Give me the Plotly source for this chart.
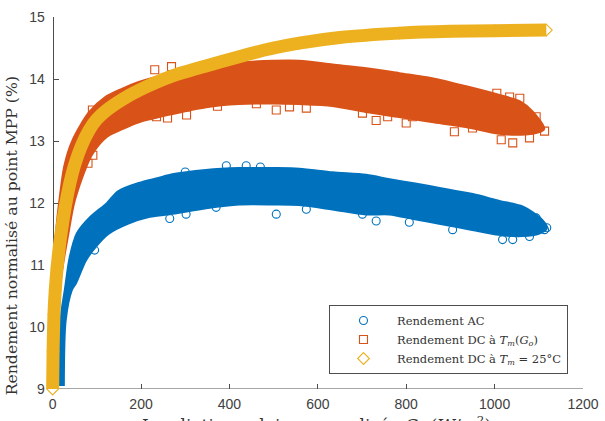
import plotly.graph_objects as go

# ---------------- data ----------------
# Rendement AC : band envelope + stray points
ac_up_g = [20, 21, 31, 42, 58, 88, 125, 150, 196, 240, 271, 347, 422, 500, 558, 633, 709, 762, 820, 875, 950, 1010, 1063, 1101, 1115]
ac_up_y = [9.05, 10.1, 10.6, 11.12, 11.5, 11.76, 11.98, 12.17, 12.3, 12.38, 12.44, 12.51, 12.54, 12.54, 12.53, 12.47, 12.43, 12.36, 12.29, 12.22, 12.12, 12.01, 11.92, 11.74, 11.6]
ac_lo_g = [22, 26, 40, 50, 72, 94, 124, 170, 219, 271, 347, 422, 500, 558, 633, 709, 762, 820, 875, 950, 1010, 1063, 1100]
ac_lo_y = [9.05, 10.1, 10.6, 10.72, 11.08, 11.3, 11.52, 11.69, 11.8, 11.85, 11.94, 12.0, 12.0, 11.99, 11.92, 11.84, 11.84, 11.76, 11.69, 11.59, 11.51, 11.49, 11.53]
ac_out_g = [95, 265, 302, 370, 506, 574, 701, 732, 807, 905, 1018, 1041, 1079, 1113, 1094, 393, 438, 470, 300, 1118]
ac_out_y = [11.24, 11.75, 11.82, 11.93, 11.82, 11.9, 11.82, 11.71, 11.69, 11.57, 11.41, 11.41, 11.46, 11.57, 11.76, 12.6, 12.6, 12.58, 12.5, 11.6]

# Rendement DC a Tm(Go)
dc_up_g = [2, 4, 7, 12, 18, 30, 48, 85, 121, 158, 196, 271, 347, 422, 500, 558, 633, 709, 784, 858, 935, 1010, 1055, 1085, 1109]
dc_up_y = [9.3, 10.3, 11.0, 11.6, 12.0, 12.6, 13.0, 13.45, 13.69, 13.82, 13.93, 14.07, 14.17, 14.24, 14.27, 14.27, 14.21, 14.15, 14.07, 13.99, 13.86, 13.72, 13.62, 13.45, 13.2]
dc_lo_g = [6, 16, 32, 47, 85, 121, 158, 196, 271, 347, 422, 500, 558, 633, 709, 784, 858, 935, 1010, 1070, 1105]
dc_lo_y = [9.5, 10.8, 11.5, 12.05, 12.78, 13.09, 13.22, 13.33, 13.46, 13.57, 13.62, 13.63, 13.62, 13.59, 13.49, 13.41, 13.33, 13.25, 13.14, 13.13, 13.18]
dc_out_g = [80, 91, 90, 231, 269, 235, 260, 303, 373, 461, 506, 536, 574, 701, 732, 758, 800, 814, 909, 950, 1015, 1041, 1079, 1113, 1094, 1057, 1005, 1034]
dc_out_y = [12.64, 12.77, 13.5, 14.15, 14.2, 13.39, 13.37, 13.42, 13.56, 13.6, 13.5, 13.55, 13.53, 13.45, 13.33, 13.39, 13.29, 13.39, 13.15, 13.21, 13.02, 12.97, 13.05, 13.16, 13.39, 13.69, 13.77, 13.71]

# Rendement DC a Tm = 25 C (narrow band centre line)
d25_g = [0, 1, 3, 6, 10, 16, 22, 30, 40, 50, 65, 83, 100, 121, 160, 196, 271, 347, 422, 500, 558, 650, 785, 900, 1000, 1117]
d25_y = [9.0, 9.6, 10.2, 10.6, 10.95, 11.35, 11.65, 12.0, 12.35, 12.62, 12.92, 13.18, 13.35, 13.49, 13.68, 13.82, 14.05, 14.21, 14.36, 14.5, 14.58, 14.67, 14.74, 14.77, 14.78, 14.79]

x_ticks = [0, 200, 400, 600, 800, 1000, 1200]
y_ticks = [9, 10, 11, 12, 13, 14, 15]
x_min, x_max = 0, 1200
y_min, y_max = 9, 15

names = ["Rendement AC",
         "Rendement DC à <i>T</i><sub><i>m</i></sub>(<i>G</i><sub><i>o</i></sub>)",
         "Rendement DC à <i>T</i><sub><i>m</i></sub> = 25°C"]
x_title = "Irradiation solaire normalisée <i>G</i><sub><i>o</i></sub> (<i>W</i>/<i>m</i><sup>2</sup>)"
y_title = "Rendement normalisé au point MPP (%)"
colors = ["#0072BD", "#D95319", "#EDB120"]

fig = go.Figure()

def band(up_g, up_y, lo_g, lo_y, out_g, out_y, color, symbol, name):
    fig.add_trace(go.Scatter(
        x=up_g + lo_g[::-1], y=up_y + lo_y[::-1], mode="lines",
        fill="toself", fillcolor=color,
        line=dict(color=color, width=5, shape="spline", smoothing=0.8),
        showlegend=False, hoverinfo="skip", cliponaxis=False))
    fig.add_trace(go.Scatter(
        x=out_g, y=out_y, mode="markers",
        marker=dict(symbol=symbol, size=8, color=color, line=dict(color=color, width=1.1)),
        name=name, cliponaxis=False))

band(ac_up_g, ac_up_y, ac_lo_g, ac_lo_y, ac_out_g, ac_out_y, colors[0], "circle-open", names[0])
band(dc_up_g, dc_up_y, dc_lo_g, dc_lo_y, dc_out_g, dc_out_y, colors[1], "square-open", names[1])

fig.add_trace(go.Scatter(x=d25_g, y=d25_y, mode="lines",
                         line=dict(color=colors[2], width=13, shape="spline", smoothing=0.6),
                         showlegend=False, hoverinfo="skip", cliponaxis=False))
fig.add_trace(go.Scatter(x=d25_g, y=d25_y, mode="markers",
                         marker=dict(symbol="diamond-open", size=9, color=colors[2],
                                     line=dict(color=colors[2], width=1.1)),
                         name=names[2], cliponaxis=False))

axis_col = "#4d4d4d"
tick_font = dict(family="Liberation Sans, Arial, sans-serif", size=14, color="#404040")
serif = "DejaVu Serif, Liberation Serif, serif"

# a little room left of G = 0 so the marks that sit on the y axis are not cut
x_pad = 15
x_span = x_max - x_min + x_pad
plot_right = 583
px_per_unit = (plot_right - 53) / (x_max - x_min)
left_margin = 53 - x_pad * px_per_unit

fig.update_layout(
    width=605, height=421,
    margin=dict(l=left_margin, r=605 - plot_right, t=17, b=32, autoexpand=False),
    paper_bgcolor="white", plot_bgcolor="white",
    showlegend=True,
    legend=dict(x=1 - (plot_right - 568) / (plot_right - left_margin), y=(389 - 374) / 372,
                xanchor="right", yanchor="bottom",
                bgcolor="white", bordercolor="#4d4d4d", borderwidth=1,
                font=dict(family=serif, size=11.5, color="#333333"),
                itemwidth=57, tracegroupgap=0),
    annotations=[
        dict(text=x_title, xref="paper", yref="paper",
             x=(317 - left_margin) / (plot_right - left_margin), y=-0.058,
             xanchor="center", yanchor="top", showarrow=False,
             font=dict(family=serif, size=17, color="#333333")),
        dict(text=y_title, xref="paper", yref="paper",
             x=(12 - left_margin) / (plot_right - left_margin), y=0.412,
             xanchor="center", yanchor="middle", showarrow=False, textangle=-90,
             font=dict(family=serif, size=15.7, color="#333333")),
    ],
    shapes=[dict(type="line", xref="x", yref="y", x0=x_min, x1=x_max, y0=y_min, y1=y_min,
                 line=dict(color=axis_col, width=1), layer="below")],
)
fig.update_xaxes(range=[x_min - x_pad, x_max], tickvals=x_ticks, ticks="inside", ticklen=5,
                 tickcolor=axis_col, showline=False,
                 showgrid=False, zeroline=False, tickfont=tick_font, automargin=False,
                 ticklabelstandoff=5, layer="below traces")
fig.update_yaxes(range=[y_min, y_max], tickvals=y_ticks, ticks="inside", ticklen=5,
                 tickcolor=axis_col, showline=True, linecolor=axis_col, linewidth=1,
                 anchor="free", position=x_pad / x_span,
                 showgrid=False, zeroline=False, tickfont=tick_font, automargin=False,
                 ticklabelstandoff=5, layer="below traces")

fig.write_html("out.html")
